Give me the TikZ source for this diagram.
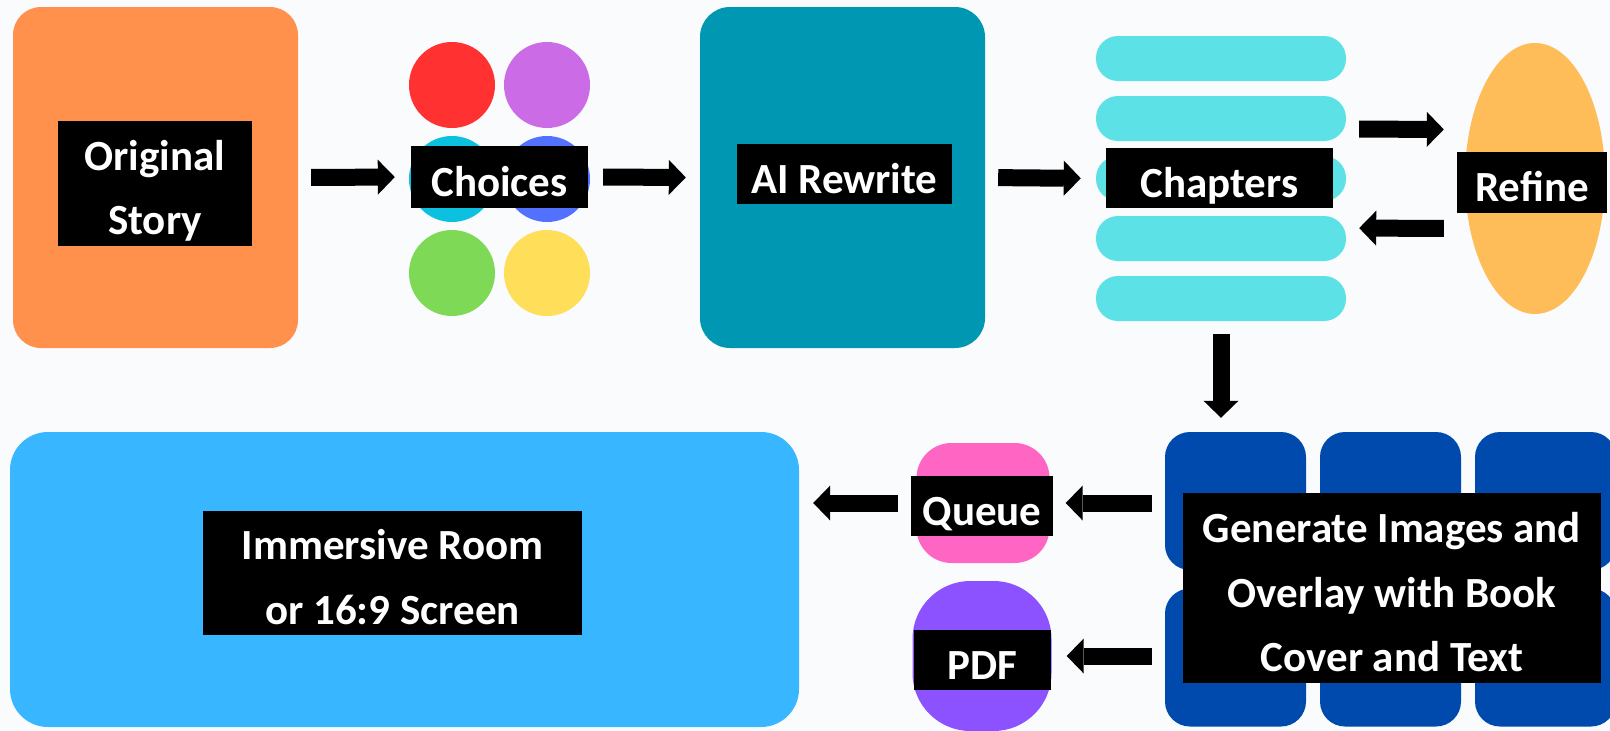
\documentclass[tikz,border=0pt]{standalone}
\usepackage{fontspec}
\setmainfont{Carlito}
\usetikzlibrary{arrows.meta,shapes.geometric}

\definecolor{bg}{HTML}{FAFBFD}
\definecolor{storyorange}{HTML}{FF914D}
\definecolor{rewriteteal}{HTML}{0097B2}
\definecolor{barcyan}{HTML}{5CE1E6}
\definecolor{refineorange}{HTML}{FFBD59}
\definecolor{roomblue}{HTML}{38B6FF}
\definecolor{queuepink}{HTML}{FF66C4}
\definecolor{pdfpurple}{HTML}{8C52FF}
\definecolor{genblue}{HTML}{004AAD}
\definecolor{dotred}{HTML}{FF3131}
\definecolor{dotpurple}{HTML}{CB6CE6}
\definecolor{dotcyan}{HTML}{0CC0DF}
\definecolor{dotblue}{HTML}{5271FF}
\definecolor{dotgreen}{HTML}{7ED957}
\definecolor{dotyellow}{HTML}{FFDE59}

\tikzset{
  lbl/.style={fill=black, text=white, font=\bfseries\fontsize{43}{64.5}\selectfont,
    align=center, inner sep=0pt, text depth=0pt, text height=#1},
  lbl/.default=38pt,
  card/.style={rounded corners=#1, inner sep=0pt},
  flow/.style={line width=17pt, -{Triangle[width=35pt,length=17pt,line width=0pt]}},
}

\begin{document}
\begin{tikzpicture}[x=1pt,y=-1pt]

\fill[bg] (0,0) rectangle (1610,731);
\useasboundingbox (0,0) rectangle (1610,731);
\clip (0,0) rectangle (1610,731);

% top row
\node[card=28pt, fill=storyorange, minimum width=285pt, minimum height=341pt] (story) at (155.5,177.5) {};
\node[lbl=102.5pt, minimum width=194pt, minimum height=125pt] (storylbl) at (155,183.5) {Original\\Story};

\foreach \px/\py/\clr [count=\k] in {452/85/dotred, 547/85/dotpurple, 452/179/dotcyan,
    547/179/dotblue, 452/273/dotgreen, 547/273/dotyellow}
    \node[circle, fill=\clr, minimum size=86pt, inner sep=0pt] (dot\k) at (\px,\py) {};
\node[lbl, minimum width=177pt, minimum height=62pt] (choices) at (499.5,177) {Choices};

\node[card=30pt, fill=rewriteteal, minimum width=285pt, minimum height=341pt] (rewrite) at (842.5,177.5) {};
\node[lbl, minimum width=215pt, minimum height=60pt] (rewritelbl) at (844.5,174) {AI Rewrite};

\foreach \k in {1,...,5}
    \node[card=22pt, fill=barcyan, minimum width=250pt, minimum height=45pt] (bar\k) at (1221,{-1.5+60*\k}) {};
\node[lbl, minimum width=227pt, minimum height=60pt] (chapters) at (1219.5,178) {Chapters};

\node[ellipse, fill=refineorange, minimum width=140pt, minimum height=271pt, inner sep=0pt] (refine) at (1535,178.5) {};
\node[lbl, minimum width=150pt, minimum height=61pt] (refinelbl) at (1532,182.5) {Refine};

% bottom row
\node[card=38pt, fill=roomblue, minimum width=789pt, minimum height=295pt] (room) at (404.5,579.5) {};
\node[lbl=102.5pt, minimum width=379pt, minimum height=124pt] (roomlbl) at (392.5,573) {Immersive Room\\or 16:9 Screen};

\node[card=35pt, fill=queuepink, minimum width=133pt, minimum height=120pt] (queue) at (983,503) {};
\node[lbl, minimum width=142pt, minimum height=60pt] (queuelbl) at (982,506) {Queue};
\node[card=58pt, fill=pdfpurple, minimum width=139pt, minimum height=150pt] (pdf) at (982,656) {};
\node[lbl, minimum width=137pt, minimum height=60pt] (pdflbl) at (982.5,660) {PDF};

\foreach \i/\gx in {1/1235.5,2/1390.5,3/1545.5}
    \foreach \j/\gy in {1/501,2/657.5}
        \node[card=25pt, fill=genblue, minimum width=141pt, minimum height=138pt] (gen\i\j) at (\gx,\gy) {};
\node[lbl=167pt, minimum width=418pt, minimum height=190pt] (genlbl) at (1392,588) {Generate Images and\\Overlay with Book\\Cover and Text};

% arrows
\draw[flow, shorten <=13pt, shorten >=16pt] (story.east) -- (choices.west);
\draw[flow, shorten <=15pt, shorten >=14pt] (choices.east) -- (rewrite.west);
\draw[flow, shorten <=13pt, shorten >=15pt] (rewrite.east) -- (bar3.west);
\draw[flow, shorten <=26pt, shorten >=21pt] ([yshift=49pt]chapters.east) -- ([yshift=49pt]refine.west);
\draw[flow, shorten <=21pt, shorten >=26pt] ([yshift=-50pt]refine.west) -- ([yshift=-50pt]chapters.east);
\draw[flow, shorten <=13pt, shorten >=14pt] (bar5.south) -- (bar5.south |- gen11.north);
\draw[flow, shorten <=13pt, shorten >=16pt] (queue.east -| gen11.west) -- (queue.east);
\draw[flow, shorten <=13pt, shorten >=15pt] (pdf.east -| gen12.west) -- (pdf.east);
\draw[flow, shorten <=18pt, shorten >=14pt] (queue.west) -- (queue.west -| room.east);

\end{tikzpicture}
\end{document}
